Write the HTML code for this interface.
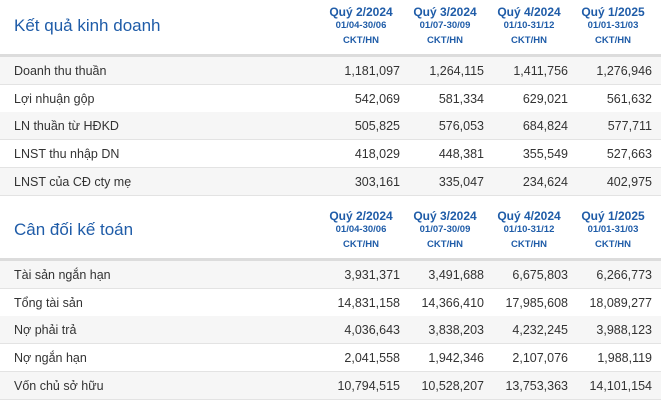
<!DOCTYPE html>
<html><head><meta charset="utf-8"><style>
body{margin:0;width:661px;height:400px;background:#fff;font-family:"Liberation Sans",Arial,sans-serif;overflow:hidden;position:relative}
.t{position:absolute;left:14px;font-size:17px;color:#1f5ca8}
.h{position:absolute;width:90px;text-align:center;color:#1f5ca8;font-weight:bold}
.h .q{font-size:12px;line-height:14px}
.h .d{font-size:9.5px;line-height:14.5px}
.row{position:absolute;left:0;width:661px;height:27px;border-bottom:1px solid #e3e3e3;font-size:12.5px;color:#333}
.row.g{background:#f6f6f6}
.row .l{position:absolute;left:14px;top:7px}
.row .v{position:absolute;top:7px;width:90px;text-align:right}
.sep{position:absolute;left:0;width:661px;height:3px;background:#dcdcdc}
</style></head><body>
<div class="t" style="top:16px">Kết quả kinh doanh</div>
<div class="t" style="top:220px">Cân đối kế toán</div>
<div class="sep" style="top:54px"></div>
<div class="sep" style="top:258px"></div>
<div id="tbl"></div>
<script>
const periods=["Quý 2/2024","Quý 3/2024","Quý 4/2024","Quý 1/2025"];
const ranges=["01/04-30/06","01/07-30/09","01/10-31/12","01/01-31/03"];
const incomeLabels=["Doanh thu thuần","Lợi nhuận gộp","LN thuần từ HĐKD","LNST thu nhập DN","LNST của CĐ cty mẹ"];
const incomeValues=[["1,181,097","1,264,115","1,411,756","1,276,946"],["542,069","581,334","629,021","561,632"],["505,825","576,053","684,824","577,711"],["418,029","448,381","355,549","527,663"],["303,161","335,047","234,624","402,975"]];
const balanceLabels=["Tài sản ngắn hạn","Tổng tài sản","Nợ phải trả","Nợ ngắn hạn","Vốn chủ sở hữu"];
const balanceValues=[["3,931,371","3,491,688","6,675,803","6,266,773"],["14,831,158","14,366,410","17,985,608","18,089,277"],["4,036,643","3,838,203","4,232,245","3,988,123"],["2,041,558","1,942,346","2,107,076","1,988,119"],["10,794,515","10,528,207","13,753,363","14,101,154"]];
const colRight=[400,484,568,652];
const root=document.getElementById('tbl');
function header(top){
  periods.forEach((p,i)=>{
    const h=document.createElement('div');h.className='h';
    
    
    h.style.left=(colRight[i]-84)+'px';h.style.top=top+'px';
    h.innerHTML='<div class="q">'+p+'</div><div class="d">'+ranges[i]+'</div><div class="d">CKT/HN</div>';
    root.appendChild(h);
  });
}
function rows(top,labels,vals){
  labels.forEach((lab,r)=>{
    const d=document.createElement('div');d.className='row'+(r%2==0?' g':'');
    
    
    d.style.top=(top+r*27.7)+'px';
    let s='<span class="l">'+lab+'</span>';
    vals[r].forEach((v,i)=>{s+='<span class="v" style="left:'+(colRight[i]-90)+'px">'+v+'</span>';});
    d.innerHTML=s;root.appendChild(d);
  });
}
header(5);header(209);
rows(57,incomeLabels,incomeValues);
rows(261,balanceLabels,balanceValues);
</script>
</body></html>
